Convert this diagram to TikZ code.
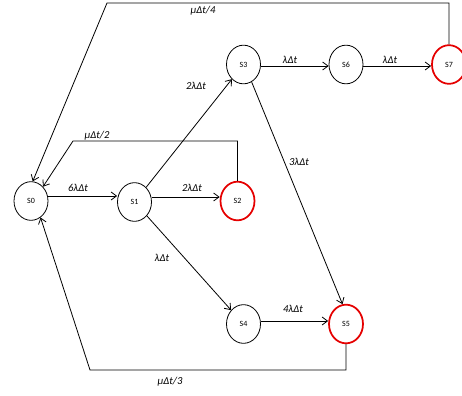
\documentclass[tikz,border=0pt]{standalone}
\usepackage{fontspec}
\setmainfont{Carlito}
\usetikzlibrary{shapes.geometric,arrows.meta}
\begin{document}
\begin{tikzpicture}[x=0.75pt,y=-0.75pt,
  st/.style={ellipse,draw=black,line width=0.6pt,minimum width=25.5pt,minimum height=29pt,inner sep=0pt,font=\fontsize{6}{7}\selectfont},
  fail/.style={st,draw=red!90!black,line width=1.3pt},
  tr/.style={line width=0.6pt,-{Straight Barb[length=4pt,width=6pt]}},
  lab/.style={font=\fontsize{8}{9}\selectfont\itshape,inner sep=0pt}]
\useasboundingbox (0,0) rectangle (462,396);
\node[st] (s0) at (31,201) {S0};
\node[st] (s1) at (134.5,202) {S1};
\node[fail] (s2) at (237.5,201) {S2};
\node[st] (s3) at (243.5,64.5) {S3};
\node[st] (s6) at (346,64.5) {S6};
\node[fail] (s7) at (449,64.5) {S7};
\node[st] (s4) at (243.5,324) {S4};
\node[fail] (s5) at (346,324) {S5};
\coordinate (c7) at (107,3);
\coordinate (c2) at (73,141);
\coordinate (c5) at (90,370);
\draw[tr] (s0.east |- 0,196) -- (s1.west |- 0,196);
\draw[tr] (s1.east |- 0,197) -- (s2.west |- 0,197);
\draw[tr] (s1) -- (s3);
\draw[tr] (s3.east |- 0,66) -- (s6.west |- 0,66);
\draw[tr] (s6.east |- 0,66) -- (s7.west |- 0,66);
\draw[tr] (s3.-65) -- (s5.100);
\draw[tr] (s1) -- (s4);
\draw[tr] (s4.east |- 0,321) -- (s5.west |- 0,321);
\draw[tr] (s7.north) |- (c7) -- (s0.85);
\draw[tr] (s2.north) |- (c2) -- (s0.50);
\draw[tr] (s5.south) |- (c5) -- (s0.-60);
\node[lab] (l01) at (78,188) {6λΔt};
\node[lab] (l12) at (192,188) {2λΔt};
\node[lab] (l13) at (196,86) {2λΔt};
\node[lab] (l36) at (290,60) {λΔt};
\node[lab] (l67) at (390,60) {λΔt};
\node[lab] (l70) at (203,11) {μΔt/4};
\node[lab] (l20) at (97,136) {μΔt/2};
\node[lab] (l35) at (299,162) {3λΔt};
\node[lab] (l14) at (162,258) {λΔt};
\node[lab] (l45) at (293,309) {4λΔt};
\node[lab] (l50) at (170,382) {μΔt/3};
\end{tikzpicture}
\end{document}
